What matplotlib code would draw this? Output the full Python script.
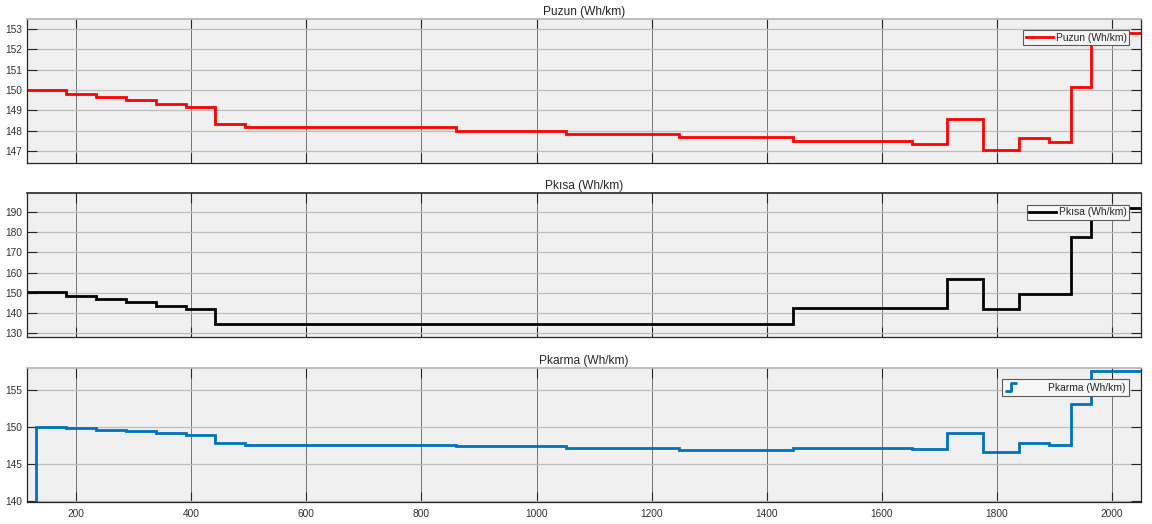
"""
Step profiles of the three energy consumption figures (Wh/km) along the route.
Saves out.png
"""

import matplotlib
matplotlib.use("Agg")
import matplotlib.pyplot as plt
from matplotlib.lines import Line2D
from matplotlib.path import Path

plt.rcParams["font.family"] = ["Liberation Sans", "DejaVu Sans"]

# ── Data ──────────────────────────────────────────────────────────────────────
distance = [114, 130, 182, 234, 286, 338, 390, 442, 494, 860, 1052, 1248,
            1445, 1652, 1713, 1776, 1839, 1890, 1929, 1963, 2050]

puzun = [150.0, 150.0, 149.8, 149.64, 149.49, 149.34, 149.18, 148.33, 148.18,
         148.0, 147.84, 147.68, 147.52, 147.36, 148.6, 147.07, 147.64, 147.46,
         150.13, 152.8, 152.8]

pkisa = [150.2, 150.2, 148.5, 147.0, 145.3, 143.7, 142.2, 134.9, 134.9,
         134.9, 134.9, 134.9, 142.3, 142.3, 156.7, 142.2, 149.3, 149.3,
         177.7, 191.8, 191.8]

pkarma = [0.0, 150.03, 149.8, 149.6, 149.4, 149.17, 148.95, 147.8, 147.58,
          147.37, 147.1, 146.9, 147.15, 146.97, 149.23, 146.66, 147.79, 147.6,
          153.1, 157.5, 157.5]

titles = ["Puzun (Wh/km)", "Pkısa (Wh/km)", "Pkarma (Wh/km)"]
colors = ["#ff0000", "#000000", "#0072bd"]
ylims = [(146.4, 153.5), (128.4, 199.0), (139.8, 158.0)]
yticks = [list(range(147, 154)), list(range(130, 191, 10)), [140, 145, 150, 155]]
xticks = list(range(200, 2001, 200))

# ── Layout (figure fractions) ─────────────────────────────────────────────────
LEFT, WIDTH = 0.0232, 0.967
panels = [(0.6884, 0.2754), (0.3574, 0.2737), (0.0414, 0.2569)]
top_spine = ["#b4b4b4", "#262626", "#b4b4b4"]

fig = plt.figure(figsize=(11.52, 5.24), dpi=100)

# step-shaped legend icon for the last panel
step_icon = Path([(-1.0, -0.6), (0.0, -0.6), (0.0, 0.6), (1.0, 0.6)],
                 [Path.MOVETO, Path.LINETO, Path.LINETO, Path.LINETO])

series = [puzun, pkisa, pkarma]
for i, (vals, title, col) in enumerate(zip(series, titles, colors)):
    b, h = panels[i]
    ax = fig.add_axes([LEFT, b, WIDTH, h])
    ax.set_facecolor("#f0f0f0")
    ax.plot(distance, vals, drawstyle="steps-post", color=col, lw=2.0,
            solid_joinstyle="miter")

    ax.set_xlim(114, 2050)
    ax.set_ylim(*ylims[i])
    ax.set_xticks(xticks)
    ax.set_yticks(yticks[i])
    ax.set_title(title, fontsize=8.6, color="#262626", pad=3)

    ax.grid(axis="x", color="#757575", lw=0.7)
    ax.grid(axis="y", color="#bdbdbd", lw=0.9)
    ax.set_axisbelow(True)

    ax.tick_params(direction="in", length=7, width=0.8, color="#262626",
                   labelsize=7.3, labelcolor="#303030",
                   top=True, right=True, pad=3)
    ax.tick_params(axis="x", pad=5)
    if i < 2:
        ax.tick_params(labelbottom=False)

    for side in ("left", "bottom", "right"):
        ax.spines[side].set_color("#262626")
        ax.spines[side].set_linewidth(0.9)
    ax.spines["top"].set_color(top_spine[i])
    ax.spines["top"].set_linewidth(1.2)

    if i < 2:
        handle = Line2D([], [], color=col, lw=2.0)
        leg = ax.legend([handle], [title], loc="upper right", fontsize=7.4,
                        handlelength=2.6, handletextpad=0.3,
                        borderpad=0.25, borderaxespad=1.1,
                        fancybox=False, framealpha=1.0)
    else:
        handle = Line2D([], [], color=col, marker=step_icon, markersize=9,
                        markeredgewidth=2.0, markerfacecolor="none",
                        linestyle="none")
        leg = ax.legend([handle], [title], loc="upper right", fontsize=7.4,
                        handlelength=1.2, handletextpad=3.0, numpoints=1,
                        borderpad=0.35, borderaxespad=1.1,
                        fancybox=False, framealpha=1.0)
    leg.get_frame().set_facecolor("#f7f7f7")
    leg.get_frame().set_edgecolor("#5a5a5a")
    leg.get_frame().set_linewidth(0.8)
    for t in leg.get_texts():
        t.set_color("#262626")

fig.savefig("out.png", dpi=100)
